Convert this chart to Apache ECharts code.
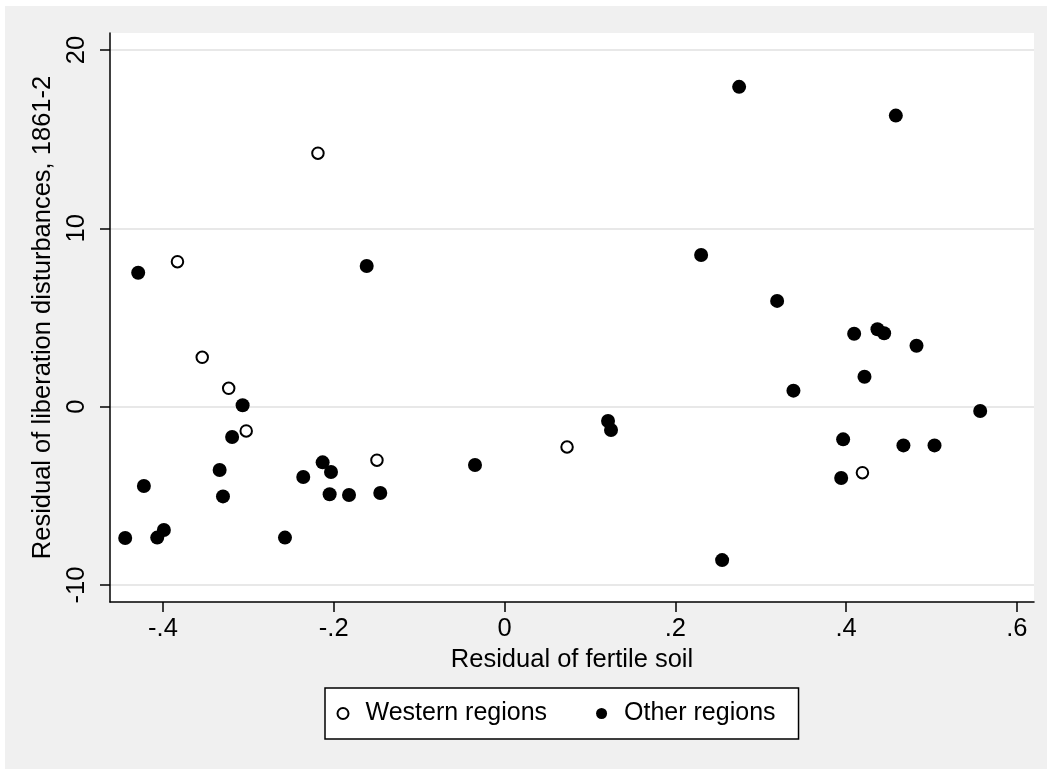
<!DOCTYPE html>
<html lang="en">
<head>
    <meta charset="UTF-8">
    <title>Residual plot</title>
    <script src="https://cdn.jsdelivr.net/npm/echarts@6/dist/echarts.min.js"></script>
    <style>
        body { margin: 0; background: #fff; }
        #main { position: absolute; left: 5px; top: 6px; width: 1042px; height: 763px; }
    </style>
</head>
<body>
    <div id="main"></div>
    <script>
        // western regions (hollow markers)
        var westernX = [-0.383, -0.2185, -0.354, -0.323, -0.3025, -0.1494, 0.0732, 0.4191];
        var westernY = [8.13, 14.21, 2.77, 1.03, -1.36, -3.00, -2.26, -3.70];

        // other regions (solid markers)
        var otherX = [-0.429, -0.1614, -0.3067, -0.319, -0.3336, -0.4223, -0.3297, -0.4442, -0.4067,
                      -0.3989, -0.2571, -0.2357, -0.213, -0.2032, -0.2048, -0.1821, -0.1455, -0.0346,
                      0.1212, 0.1247, 0.2302, 0.2548, 0.2747, 0.4582, 0.3192, 0.4094, 0.4367, 0.4445,
                      0.4824, 0.4215, 0.3383, 0.557, 0.3965, 0.4671, 0.5035, 0.3942];
        var otherY = [7.51, 7.89, 0.08, -1.70, -3.55, -4.45, -5.03, -7.36, -7.34,
                      -6.91, -7.34, -3.94, -3.12, -3.66, -4.91, -4.95, -4.84, -3.27,
                      -0.80, -1.31, 8.50, -8.60, 17.93, 16.32, 5.93, 4.09, 4.34, 4.12,
                      3.42, 1.68, 0.90, -0.24, -1.83, -2.17, -2.17, -4.00];

        // axis ticks
        var xTicks = [-0.4, -0.2, 0, 0.2, 0.4, 0.6];
        var xTickLabels = ['-.4', '-.2', '0', '.2', '.4', '.6'];
        var yTicks = [-10, 0, 10, 20];
        var yTickLabels = ['-10', '0', '10', '20'];

        function zip(xs, ys) {
            return xs.map(function (x, i) { return [x, ys[i]]; });
        }
        function tickLabel(ticks, labels) {
            return function (v) {
                for (var i = 0; i < ticks.length; i++) {
                    if (Math.abs(ticks[i] - v) < 1e-9) return labels[i];
                }
                return '';
            };
        }

        var chart = echarts.init(document.getElementById('main'));

        var option = {
            animation: false,
            backgroundColor: '#f0f0f0',
            textStyle: { fontFamily: 'Liberation Sans, Arial, sans-serif', color: '#000' },
            grid: {
                left: 105, right: 13, top: 27, bottom: 167,
                show: true, backgroundColor: '#fff', borderWidth: 0,
                outerBoundsMode: 'none'
            },
            xAxis: {
                type: 'value',
                min: -0.462, max: 0.62,
                name: 'Residual of fertile soil',
                nameLocation: 'middle',
                nameGap: 43,
                nameTextStyle: { fontSize: 25.5, color: '#000' },
                axisLine: { onZero: false, lineStyle: { color: '#000', width: 1.5 } },
                axisTick: { customValues: xTicks, length: 10, lineStyle: { color: '#000', width: 1.5 } },
                axisLabel: { customValues: xTicks, formatter: tickLabel(xTicks, xTickLabels), fontSize: 25.5, color: '#000', margin: 14 },
                splitLine: { show: false }
            },
            yAxis: {
                type: 'value',
                min: -10.95, max: 20.95,
                name: 'Residual of liberation disturbances, 1861-2',
                nameLocation: 'middle',
                nameGap: 45,
                nameTextStyle: { fontSize: 25.5, color: '#000' },
                axisLine: { show: true, onZero: false, lineStyle: { color: '#000', width: 1.5 } },
                axisTick: { show: true, customValues: yTicks, length: 10, lineStyle: { color: '#000', width: 1.5 } },
                axisLabel: { customValues: yTicks, formatter: tickLabel(yTicks, yTickLabels), rotate: 90, fontSize: 25.5, color: '#000', margin: 20 },
                splitLine: { show: true, lineStyle: { color: '#e8e8e8', width: 2 } }
            },
            legend: {
                left: 320, top: 682,
                orient: 'horizontal',
                backgroundColor: '#fff',
                borderColor: '#000',
                borderWidth: 1.5,
                borderRadius: 0,
                padding: [13, 23, 13, 11.5],
                itemWidth: 11, itemHeight: 11, itemGap: 49,
                textStyle: { fontSize: 25, color: '#000', padding: [0, 0, 0, 12] },
                data: [
                    { name: 'Western regions', icon: 'circle' },
                    { name: 'Other regions', icon: 'circle' }
                ]
            },
            series: [
                {
                    name: 'Western regions',
                    type: 'scatter',
                    symbol: 'circle',
                    symbolSize: 11.5,
                    silent: true,
                    itemStyle: { color: '#fff', borderColor: '#000', borderWidth: 2, opacity: 1 },
                    data: zip(westernX, westernY)
                },
                {
                    name: 'Other regions',
                    type: 'scatter',
                    symbol: 'circle',
                    symbolSize: 14,
                    silent: true,
                    itemStyle: { color: '#000', opacity: 1 },
                    data: zip(otherX, otherY)
                }
            ]
        };

        chart.setOption(option);
    </script>
</body>
</html>
